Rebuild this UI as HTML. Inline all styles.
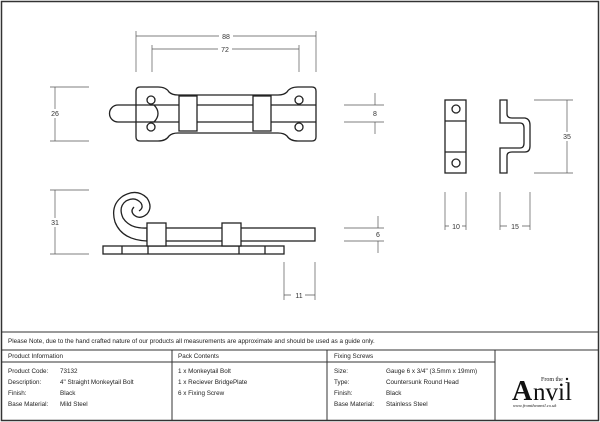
<!DOCTYPE html>
<html><head><style>
body{margin:0;background:#fff;}
svg{display:block;font-family:"Liberation Sans",sans-serif;}
</style></head><body>
<svg width="600" height="422" viewBox="0 0 600 422" xmlns="http://www.w3.org/2000/svg">
<rect x="1.5" y="1.5" width="597" height="419" fill="none" stroke="#333" stroke-width="1.5"/>
<g stroke="#222" stroke-width="1.3" fill="none">
<path d="M140,87 H158 Q166,87 169,92 Q172,95 178,95 H278 Q284,95 287,92 Q290,87 298,87 H312 Q316,87 316,91 V137 Q316,141 312,141 H298 Q290,141 287,136 Q284,133 278,133 H178 Q172,133 169,136 Q166,141 158,141 H140 Q136,141 136,137 V91 Q136,87 140,87 Z"/>
<circle cx="151" cy="100" r="4"/><circle cx="151" cy="127" r="4"/>
<circle cx="299" cy="100" r="4"/><circle cx="299" cy="127" r="4"/>
<path d="M154,105 H118 A8.5,8.5 0 0 0 118,122 H154 Q158,118 158,113.5 Q158,109 154,105"/>
<line x1="150" y1="105" x2="316" y2="105"/><line x1="150" y1="122" x2="316" y2="122"/>
<rect x="179" y="96" width="18" height="35" fill="#fff"/>
<rect x="253" y="96" width="18" height="35" fill="#fff"/>
<rect x="103" y="246" width="181" height="8"/>
<line x1="122" y1="246" x2="122" y2="254"/><line x1="148" y1="246" x2="148" y2="254"/>
<line x1="239" y1="246" x2="239" y2="254"/><line x1="265" y1="246" x2="265" y2="254"/>
<rect x="147" y="228" width="168" height="13"/>
<path d="M147,241 Q122,240 115,222 Q110,205 123,196 Q137,188 147,198 Q153,207 147,214 Q140,220 134,215 Q130,211 134,207"/>
<path d="M147,228 Q130,229 123,218 Q118,207 126,201 Q135,196 141,203 Q144,208 139,211"/>
<rect x="147" y="223" width="19" height="23" fill="#fff"/>
<rect x="222" y="223" width="19" height="23" fill="#fff"/>
<rect x="445" y="100" width="21" height="73"/>
<line x1="445" y1="121" x2="466" y2="121"/><line x1="445" y1="152" x2="466" y2="152"/>
<circle cx="456" cy="109" r="4"/><circle cx="456" cy="163" r="4"/>
<path d="M500,100 H507 V114 Q507,118 512,118 H525 Q530,119 530,125 V146 Q530,152 525,152 H512 Q507,152 507,156 V173 H500 V148 H520 Q524,148 524,143 V128 Q524,123 520,123 H500 Z"/>
</g>
<g stroke="#555" stroke-width="0.7" fill="none">
<line x1="136" y1="31" x2="136" y2="72"/><line x1="316" y1="31" x2="316" y2="72"/>
<line x1="136" y1="36" x2="316" y2="36"/>
<line x1="152" y1="45" x2="152" y2="72"/><line x1="299" y1="45" x2="299" y2="72"/>
<line x1="152" y1="49" x2="299" y2="49"/>
<line x1="50" y1="87" x2="89" y2="87"/><line x1="50" y1="141" x2="89" y2="141"/>
<line x1="55" y1="87" x2="55" y2="141"/>
<line x1="50" y1="190" x2="89" y2="190"/><line x1="50" y1="254" x2="89" y2="254"/>
<line x1="55" y1="190" x2="55" y2="254"/>
<line x1="284" y1="262" x2="284" y2="300"/><line x1="315" y1="262" x2="315" y2="300"/>
<line x1="284" y1="295" x2="315" y2="295"/>
<line x1="344" y1="105" x2="384" y2="105"/><line x1="344" y1="122" x2="384" y2="122"/>
<line x1="375" y1="93" x2="375" y2="105"/><line x1="375" y1="122" x2="375" y2="134"/>
<line x1="344" y1="228" x2="384" y2="228"/><line x1="344" y1="241" x2="384" y2="241"/>
<line x1="378" y1="216" x2="378" y2="228"/><line x1="378" y1="241" x2="378" y2="253"/>
<line x1="534" y1="100" x2="573" y2="100"/><line x1="534" y1="173" x2="573" y2="173"/>
<line x1="567" y1="100" x2="567" y2="173"/>
<line x1="445" y1="192" x2="445" y2="230"/><line x1="466" y1="192" x2="466" y2="230"/>
<line x1="445" y1="226" x2="466" y2="226"/>
<line x1="500" y1="192" x2="500" y2="230"/><line x1="530" y1="192" x2="530" y2="230"/>
<line x1="500" y1="226" x2="530" y2="226"/>
</g>
<g fill="#fff">
<rect x="219" y="32" width="14" height="8"/><rect x="218" y="45" width="14" height="8"/>
<rect x="291" y="291" width="14" height="8"/><rect x="449" y="222" width="13" height="8"/><rect x="507" y="222" width="15" height="8"/>
<rect x="48" y="109" width="14" height="9"/><rect x="48" y="218" width="14" height="9"/><rect x="560" y="132" width="14" height="9"/>
</g>
<g fill="#333" font-size="7" text-anchor="middle">
<text x="226" y="39">88</text><text x="225" y="52">72</text>
<text x="55" y="116">26</text><text x="55" y="225">31</text>
<text x="299" y="298">11</text>
<text x="375" y="116">8</text><text x="378" y="237">6</text>
<text x="567" y="139">35</text>
<text x="456" y="229">10</text><text x="515" y="229">15</text>
</g>
<g stroke="#333" stroke-width="1" fill="none">
<line x1="1" y1="332" x2="599" y2="332"/>
<line x1="1" y1="350" x2="599" y2="350"/>
<line x1="1" y1="362" x2="495" y2="362"/>
<line x1="172" y1="350" x2="172" y2="421"/>
<line x1="327" y1="350" x2="327" y2="421"/>
<line x1="495" y1="350" x2="495" y2="421"/>
</g>
<g fill="#222" font-size="6.3">
<text x="8" y="343">Please Note, due to the hand crafted nature of our products all measurements are approximate and should be used as a guide only.</text>
<text x="8" y="358">Product Information</text>
<text x="178" y="358">Pack Contents</text>
<text x="334" y="358">Fixing Screws</text>
<text x="8" y="373">Product Code:</text><text x="60" y="373">73132</text>
<text x="8" y="384">Description:</text><text x="60" y="384">4" Straight Monkeytail Bolt</text>
<text x="8" y="395">Finish:</text><text x="60" y="395">Black</text>
<text x="8" y="406">Base Material:</text><text x="60" y="406">Mild Steel</text>
<text x="178" y="373">1 x Monkeytail Bolt</text>
<text x="178" y="384">1 x Reciever BridgePlate</text>
<text x="178" y="395">6 x Fixing Screw</text>
<text x="334" y="373">Size:</text><text x="386" y="373">Gauge 6 x 3/4" (3.5mm x 19mm)</text>
<text x="334" y="384">Type:</text><text x="386" y="384">Countersunk Round Head</text>
<text x="334" y="395">Finish:</text><text x="386" y="395">Black</text>
<text x="334" y="406">Base Material:</text><text x="386" y="406">Stainless Steel</text>
</g>
<g font-family="'Liberation Serif',serif" fill="#111">
<text x="541" y="381" font-size="6">From the</text>
<circle cx="567" cy="379" r="1.2"/>
<text x="512" y="400" font-size="28" font-weight="bold">A</text>
<text x="533" y="400" font-size="25">nvil</text>
<text x="513" y="407" font-size="4.5" font-style="italic">www.fromtheanvil.co.uk</text>
</g>
</svg>
</body></html>
